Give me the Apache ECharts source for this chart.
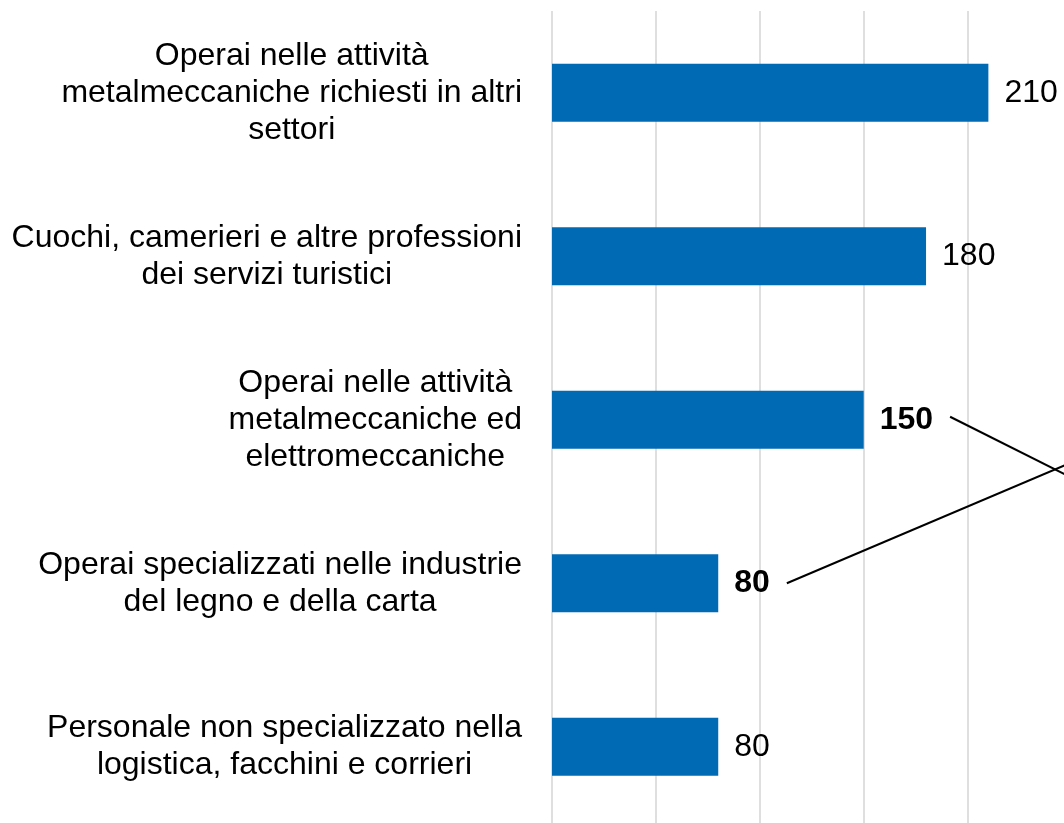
<!DOCTYPE html>
<html>
<head>
<meta charset="utf-8">
<style>
  html, body { margin: 0; padding: 0; background: #ffffff; }
  #chart { width: 1064px; height: 823px; }
</style>
<script src="https://cdn.jsdelivr.net/npm/echarts@6/dist/echarts.min.js"></script>
</head>
<body>
<div id="chart"></div>
<script>
// Professions (top to bottom) and number of hires
const categories = [
  'Operai nelle attività\nmetalmeccaniche richiesti in altri\nsettori',
  'Cuochi, camerieri e altre professioni\ndei servizi turistici',
  'Operai nelle attività\nmetalmeccaniche ed\nelettromeccaniche',
  'Operai specializzati nelle industrie\ndel legno e della carta',
  'Personale non specializzato nella\nlogistica, facchini e corrieri'
];
const values = [210, 180, 150, 80, 80];
// Rows whose value label is set in bold and linked by a callout line
const highlighted = [false, false, true, true, false];
const axisTicks = [0, 50, 100, 150, 200, 250];

const FONT = '"Liberation Sans", Arial, sans-serif';
const BAR_COLOR = '#006ab4';

const chart = echarts.init(document.getElementById('chart'), null, { renderer: 'canvas' });

const barData = values.map((v, i) => ({
  value: v,
  label: { fontWeight: highlighted[i] ? 'bold' : 'normal' }
}));

chart.setOption({
  animation: false,
  backgroundColor: '#ffffff',
  grid: {
    left: 552, width: 519.5, top: 11, height: 817.5,
    containLabel: false,
    outerBoundsMode: 'none'
  },
  xAxis: {
    type: 'value',
    min: axisTicks[0],
    max: axisTicks[axisTicks.length - 1],
    interval: axisTicks[1] - axisTicks[0],
    axisLine: { show: false },
    axisTick: { show: false },
    axisLabel: { show: false },
    splitLine: { show: true, lineStyle: { color: '#dfdfdf', width: 2 } }
  },
  yAxis: {
    type: 'category',
    data: categories,
    inverse: true,
    axisLine: { show: false },
    axisTick: { show: false },
    splitLine: { show: false },
    axisLabel: {
      margin: 30,
      align: 'right',
      formatter: function (txt) {
        return txt.split('\n').map(l => '{c|' + l + '}').join('\n');
      },
      rich: {
        c: {
          align: 'center',
          fontFamily: FONT,
          fontSize: 32,
          lineHeight: 37,
          color: '#000000'
        }
      }
    }
  },
  series: [{
    type: 'bar',
    data: barData,
    barWidth: 58,
    itemStyle: { color: BAR_COLOR },
    label: {
      show: true,
      position: 'right',
      distance: 16,
      fontFamily: FONT,
      fontSize: 32,
      color: '#000000'
    }
  }]
});

// Callout lines leaving the bold value labels towards the right margin
function drawCallouts() {
  const ctx = document.createElement('canvas').getContext('2d');
  const idx = highlighted.map((h, i) => h ? i : -1).filter(i => i >= 0);
  const c0 = chart.convertToPixel({ seriesIndex: 0 }, [0, idx[0]]);
  const c1 = chart.convertToPixel({ seriesIndex: 0 }, [0, idx[1]]);
  const band = c1[1] - c0[1];
  const endX = chart.convertToPixel({ seriesIndex: 0 }, [265, 0])[0];
  const endFractions = [0.45, 0.18];
  const lines = idx.map((i, k) => {
    const p = chart.convertToPixel({ seriesIndex: 0 }, [values[i], i]);
    ctx.font = 'bold 32px ' + FONT;
    const w = ctx.measureText(String(values[i])).width;
    const sx = p[0] + 16 + w + 17;
    const sy = p[1] - (k === 0 ? 3 : 0);
    return {
      type: 'line',
      shape: { x1: sx, y1: sy, x2: endX, y2: c0[1] + endFractions[k] * band },
      style: { stroke: '#000000', lineWidth: 2 },
      z: 10
    };
  });
  chart.setOption({ graphic: lines });
}
drawCallouts();
</script>
</body>
</html>
